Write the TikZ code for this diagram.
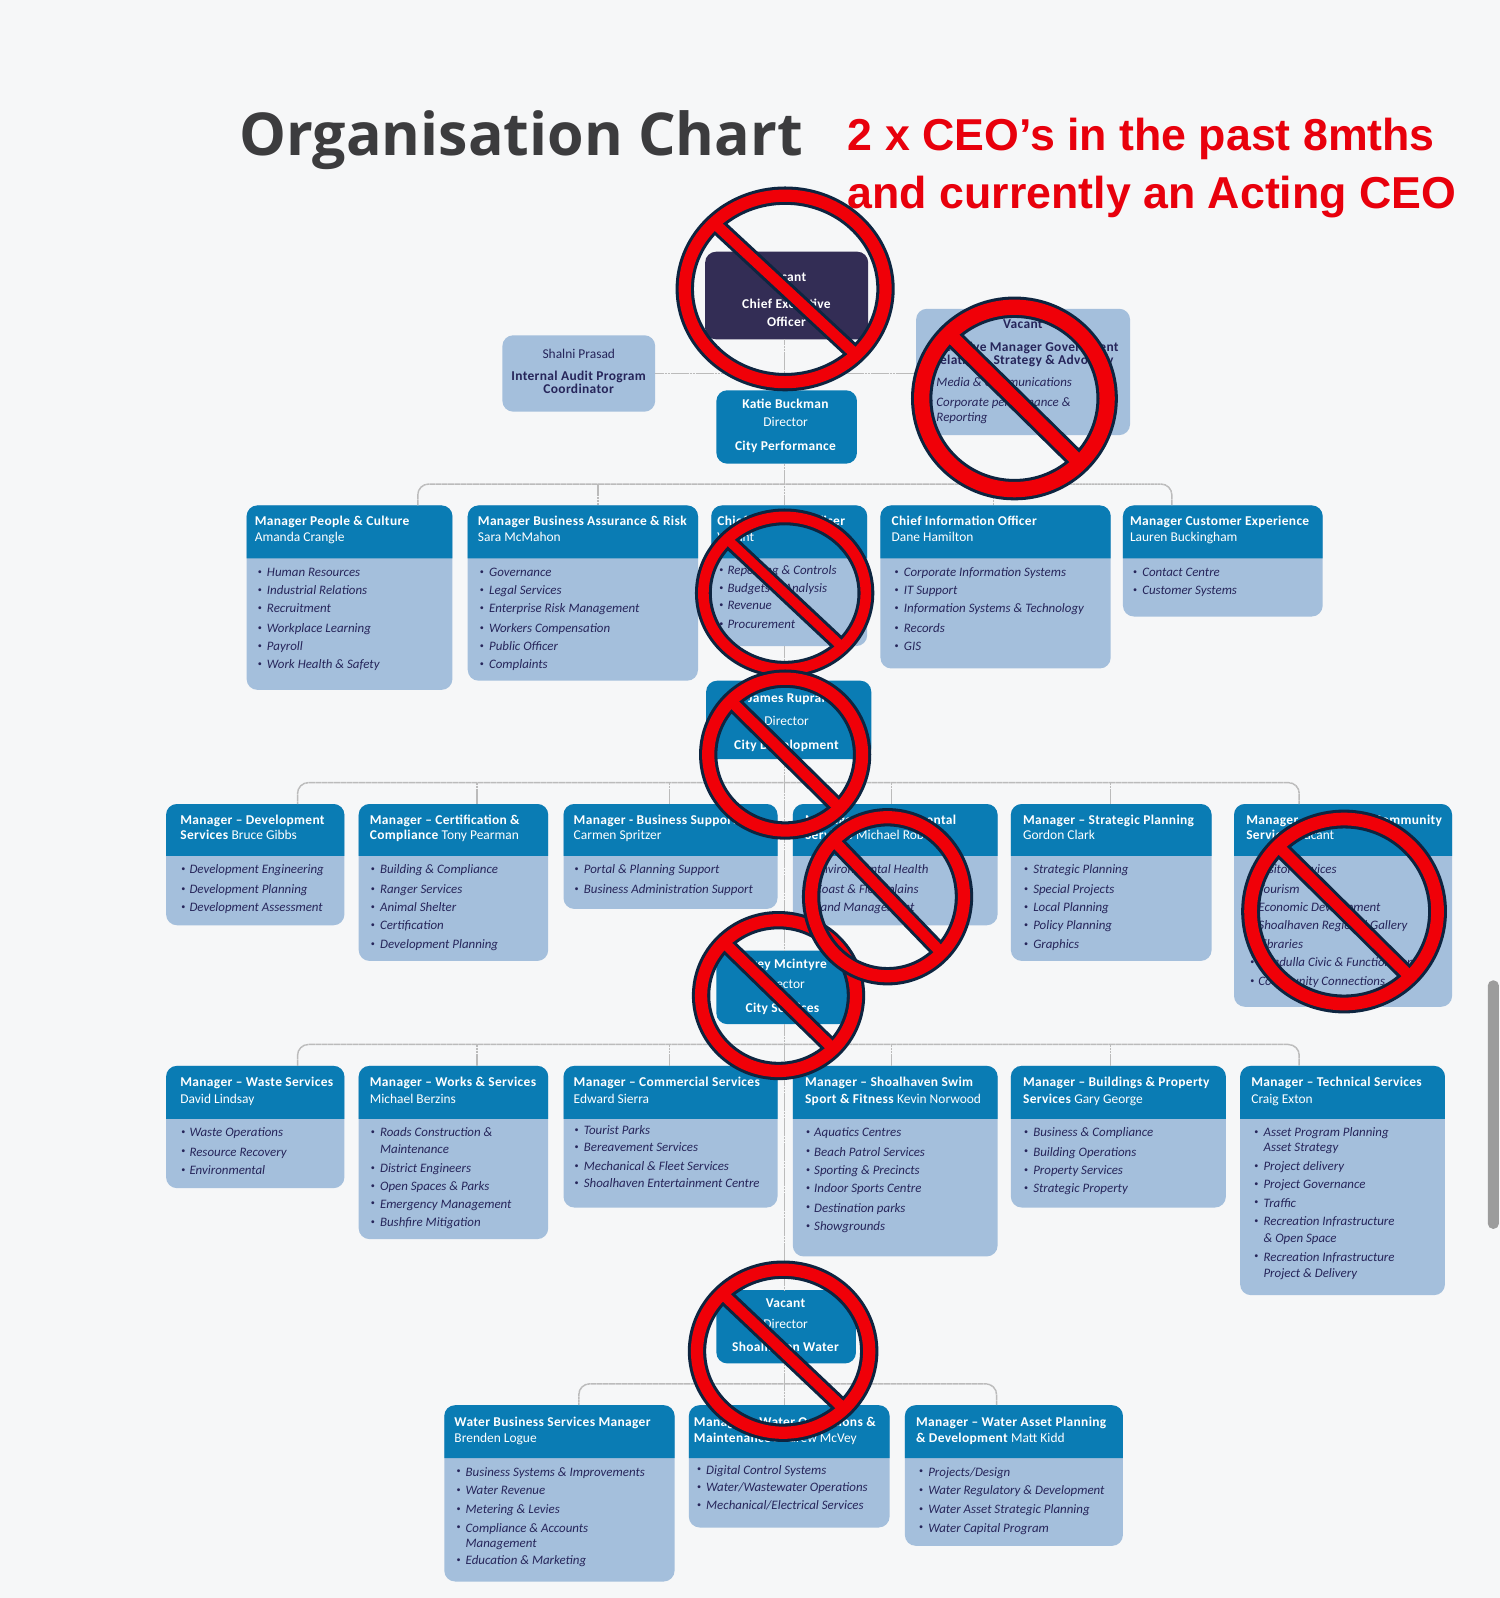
\documentclass[tikz,border=0pt]{standalone}
\usepackage{fontspec}
\setmainfont{Carlito}[BoldFeatures={LetterSpace=2.5}]
\newfontfamily\titlefont{Open Sans}
\newfontfamily\redfont{Liberation Sans}
\usetikzlibrary{calc}
\definecolor{bgc}{HTML}{F6F7F8}
\definecolor{headc}{HTML}{0A7CB4}
\definecolor{bodyc}{HTML}{A4BFDC}
\definecolor{ceoc}{HTML}{332D55}
\definecolor{inkc}{HTML}{26255A}
\definecolor{connc}{HTML}{BBBBBB}
\definecolor{ringc}{HTML}{F00008}
\definecolor{ringd}{HTML}{0D2540}
\definecolor{titlec}{HTML}{3C3C3E}
\definecolor{redt}{HTML}{E8000C}
\definecolor{barc}{HTML}{9C9C9C}
\newcounter{txtn}
\newcommand\mytx[4][]{\stepcounter{txtn}\node[txtbase,#1,name=t\arabic{txtn}] at ({#2},{#3+4.5}) {#4};}
\newcommand\hd[3]{\mytx[headtxt]{#1}{#2}{#3}}
\newcommand\bx[3]{\mytx[bodytxt]{#1}{#2}{#3}}
\newcommand\bl[4]{\mytx[bullettxt]{#1}{#3-2.1}{•}\mytx[bodytxt]{#2}{#3}{#4}}
\newcommand\cw[3]{\mytx[dirtxt]{#1}{#2}{#3}}
\newcommand\ci[3]{\mytx[dirink]{#1}{#2}{#3}}
% name, x1, y1, x2, y-head-bottom, y2
\newcommand\mycard[6]{%
 \pgfmathsetmacro\cardw{#4-#2}\pgfmathsetmacro\cardh{#6-#3}%
 \node[bodybox,anchor=north west,minimum width=\cardw*0.75pt,minimum height=\cardh*0.75pt] (#1) at (#2,#3) {};
 \fill[headc] (#2,#5) {[rounded corners=8pt] -- (#2,#3) -- (#4,#3)} -- (#4,#5) -- cycle;
}
\newcommand\mybox[7]{%
 \pgfmathsetmacro\cardw{#4-#2}\pgfmathsetmacro\cardh{#5-#3}%
 \node[#6,anchor=north west,minimum width=\cardw*0.75pt,minimum height=\cardh*0.75pt] (#1) at (#2,#3) {#7};
}
% cx, cy, rx, ry (outer size, outline included), red thickness
\newcommand\nosign[5]{%
 \pgfmathsetmacro\orx{#3-3}\pgfmathsetmacro\ory{#4-3}%
 \pgfmathsetmacro\tk{#5}\pgfmathsetmacro\irx{\orx-\tk}\pgfmathsetmacro\iry{\ory-\tk}%
 \pgfmathsetmacro\lnn{veclen(#3,#4)}%
 \pgfmathsetmacro\ax{0.707*(\orx-\tk/2)}\pgfmathsetmacro\ay{0.707*(\ory-\tk/2)}%
 \pgfmathsetmacro\px{-#4/\lnn*0.44*\tk}\pgfmathsetmacro\py{#3/\lnn*0.44*\tk}%
 \def\ringp{(#1,#2) ellipse [x radius=\orx, y radius=\ory] (#1,#2) ellipse [x radius=\irx, y radius=\iry]}%
 \def\slashp{({#1-\ax+\px},{#2-\ay+\py}) -- ({#1-\ax-\px},{#2-\ay-\py}) -- ({#1+\ax-\px},{#2+\ay-\py}) -- ({#1+\ax+\px},{#2+\ay+\py}) -- cycle}%
 \draw[ringd,line width=6*0.75pt,line join=round] \ringp;
 \draw[ringd,line width=6*0.75pt] \slashp;
 \fill[ringc,even odd rule] \ringp;
 \fill[ringc] \slashp;
}
\tikzset{
 x=0.75pt,y=-0.75pt,
 txtbase/.style={inner sep=0pt,outer sep=0pt},
 headtxt/.style={anchor=base west,text=white,font=\fontsize{9.9pt}{11pt}\selectfont},
 bodytxt/.style={anchor=base west,text=inkc,font=\fontsize{9.5pt}{11pt}\selectfont\itshape},
 bullettxt/.style={anchor=base west,text=inkc,font=\fontsize{6pt}{7pt}\selectfont},
 dirtxt/.style={anchor=base,text=white,font=\fontsize{9.9pt}{11pt}\selectfont},
 dirink/.style={anchor=base,text=inkc,font=\fontsize{9.9pt}{11pt}\selectfont},
 bodybox/.style={fill=bodyc,rounded corners=8pt,inner sep=0pt,outer sep=0pt},
 dirbox/.style={fill=headc,rounded corners=8pt,inner sep=0pt,outer sep=0pt},
 ceobox/.style={fill=ceoc,rounded corners=8pt,inner sep=0pt,outer sep=0pt},
 conn/.style={connc,line width=1.1pt,dash pattern=on 2pt off 0.3pt},
}
\begin{document}
\begin{tikzpicture}
\useasboundingbox (0,0) rectangle (1472,1568.2);
\fill[bgc] (0,0) rectangle (1472,1568.2);
\fill[barc,rounded corners=4pt] (1460,962) rectangle (1471,1206);

\node[txtbase,anchor=base west,text=titlec,font=\titlefont\bfseries\fontsize{43.5pt}{46pt}\selectfont] (title) at (235,153) {Organisation Chart};
\node[txtbase,anchor=base west,text=redt,font=\redfont\bfseries\fontsize{32.9pt}{35pt}\selectfont] (red1) at (832,148) {2 x CEO’s in the past 8mths};
\node[txtbase,anchor=base west,text=redt,font=\redfont\bfseries\fontsize{32.9pt}{35pt}\selectfont] (red2) at (832,205) {and currently an Acting CEO};

% directors and top boxes
\mybox{ceo}{692}{247}{852}{333}{ceobox}{}
\cw{772}{272}{\textbf{Vacant}}
\cw{772}{298}{\textbf{Chief Executive}}
\cw{772}{316}{\textbf{Officer}}

\mybox{shalni}{493}{329}{643}{404}{bodybox}{}
\ci{568}{347}{Shalni Prasad}
\ci{568}{369}{\textbf{Internal Audit Program}}
\ci{568}{382}{\textbf{Coordinator}}

\mybox{execv}{899}{303}{1109}{427}{bodybox}{}
\ci{1004}{318}{\textbf{Vacant}}
\ci{1006}{340}{\textbf{Executive Manager Government}}
\ci{1004}{353}{\textbf{Relations, Strategy \& Advocacy}}
\bl{912}{919}{375}{Media \& Communications}
\bl{912}{919}{394}{Corporate performance \&}
\bx{919}{409}{Reporting}

\mybox{katie}{703}{383}{841}{455}{dirbox}{}
\cw{771}{396}{\textbf{Katie Buckman}}
\cw{771}{414}{Director}
\cw{771}{438}{\textbf{City Performance}}

\mybox{james}{693}{668}{855}{745}{dirbox}{}
\cw{772}{685}{\textbf{James Ruprai}}
\cw{772}{707}{Director}
\cw{772}{731}{\textbf{City Development}}

\mybox{carey}{703}{933}{833}{1005}{dirbox}{}
\cw{768}{946}{\textbf{Carey Mcintyre}}
\cw{768}{966}{Director}
\cw{768}{989}{\textbf{City Services}}

\mybox{water}{703}{1266}{840}{1338}{dirbox}{}
\cw{771}{1279}{\textbf{Vacant}}
\cw{771}{1299}{Director}
\cw{771}{1322}{\textbf{Shoalhaven Water}}

% row 1
\mycard{c1}{242}{496}{444}{548}{677}
\hd{250}{511}{\textbf{Manager People \& Culture}}
\hd{250}{527}{Amanda Crangle}
\bl{253}{262}{561}{Human Resources}
\bl{253}{262}{579}{Industrial Relations}
\bl{253}{262}{597}{Recruitment}
\bl{253}{262}{616}{Workplace Learning}
\bl{253}{262}{634}{Payroll}
\bl{253}{262}{652}{Work Health \& Safety}

\mycard{c2}{459}{496}{685}{548}{668}
\hd{469}{511}{\textbf{Manager Business Assurance \& Risk}}
\hd{469}{527}{Sara McMahon}
\bl{471}{480}{561}{Governance}
\bl{471}{480}{579}{Legal Services}
\bl{471}{480}{597}{Enterprise Risk Management}
\bl{471}{480}{616}{Workers Compensation}
\bl{471}{480}{634}{Public Officer}
\bl{471}{480}{652}{Complaints}

\mycard{c3}{698}{496}{851}{548}{634}
\hd{704}{511}{\textbf{Chief Financial Officer}}
\hd{704}{527}{Vacant}
\bl{706}{714}{559}{Reporting \& Controls}
\bl{706}{714}{577}{Budgets \& Analysis}
\bl{706}{714}{594}{Revenue}
\bl{706}{714}{612}{Procurement}

\mycard{c4}{864}{496}{1090}{548}{656}
\hd{875}{511}{\textbf{Chief Information Officer}}
\hd{875}{527}{Dane Hamilton}
\bl{878}{887}{561}{Corporate Information Systems}
\bl{878}{887}{579}{IT Support}
\bl{878}{887}{597}{Information Systems \& Technology}
\bl{878}{887}{616}{Records}
\bl{878}{887}{634}{GIS}

\mycard{c5}{1102}{496}{1298}{548}{605}
\hd{1109}{511}{\textbf{Manager Customer Experience}}
\hd{1109}{527}{Lauren Buckingham}
\bl{1112}{1121}{561}{Contact Centre}
\bl{1112}{1121}{579}{Customer Systems}

% row 2
\mycard{d1}{163}{789}{338}{840}{908}
\hd{177}{805}{\textbf{Manager – Development}}
\hd{177}{819}{\textbf{Services} Bruce Gibbs}
\bl{178}{186}{853}{Development Engineering}
\bl{178}{186}{872}{Development Planning}
\bl{178}{186}{890}{Development Assessment}

\mycard{d2}{352}{789}{538}{840}{943}
\hd{363}{805}{\textbf{Manager – Certification \&}}
\hd{363}{819}{\textbf{Compliance} Tony Pearman}
\bl{364}{373}{853}{Building \& Compliance}
\bl{364}{373}{872}{Ranger Services}
\bl{364}{373}{890}{Animal Shelter}
\bl{364}{373}{908}{Certification}
\bl{364}{373}{926}{Development Planning}

\mycard{d3}{553}{789}{763}{840}{892}
\hd{563}{805}{\textbf{Manager - Business Support}}
\hd{563}{819}{Carmen Spritzer}
\bl{564}{573}{853}{Portal \& Planning Support}
\bl{564}{573}{872}{Business Administration Support}

\mycard{d4}{778}{789}{979}{840}{908}
\hd{790}{805}{\textbf{Manager – Environmental}}
\hd{790}{819}{\textbf{Services} Michael Roberts}
\bl{792}{800}{853}{Environmental Health}
\bl{792}{800}{872}{Coast \& Floodplains}
\bl{792}{800}{890}{Land Management}

\mycard{d5}{992}{789}{1189}{840}{943}
\hd{1004}{805}{\textbf{Manager – Strategic Planning}}
\hd{1004}{819}{Gordon Clark}
\bl{1005}{1014}{853}{Strategic Planning}
\bl{1005}{1014}{872}{Special Projects}
\bl{1005}{1014}{890}{Local Planning}
\bl{1005}{1014}{908}{Policy Planning}
\bl{1005}{1014}{926}{Graphics}

\mycard{d6}{1211}{789}{1425}{840}{988}
\hd{1223}{805}{\textbf{Manager – Tourism \& Community}}
\hd{1223}{819}{\textbf{Services} Vacant}
\bl{1227}{1235}{853}{Visitor Services}
\bl{1227}{1235}{872}{Tourism}
\bl{1227}{1235}{890}{Economic Development}
\bl{1227}{1235}{908}{Shoalhaven Regional Gallery}
\bl{1227}{1235}{926}{Libraries}
\bl{1227}{1235}{944}{Ulladulla Civic \& Function Centre}
\bl{1227}{1235}{963}{Community Connections}

% row 3
\mycard{e1}{163}{1046}{338}{1098}{1166}
\hd{177}{1062}{\textbf{Manager – Waste Services}}
\hd{177}{1078}{David Lindsay}
\bl{178}{186}{1111}{Waste Operations}
\bl{178}{186}{1130}{Resource Recovery}
\bl{178}{186}{1148}{Environmental}

\mycard{e2}{352}{1046}{538}{1098}{1216}
\hd{363}{1062}{\textbf{Manager – Works \& Services}}
\hd{363}{1078}{Michael Berzins}
\bl{364}{373}{1111}{Roads Construction \&}
\bx{373}{1127}{Maintenance}
\bl{364}{373}{1146}{District Engineers}
\bl{364}{373}{1164}{Open Spaces \& Parks}
\bl{364}{373}{1181}{Emergency Management}
\bl{364}{373}{1199}{Bushfire Mitigation}

\mycard{e3}{553}{1046}{763}{1098}{1185}
\hd{563}{1062}{\textbf{Manager – Commercial Services}}
\hd{563}{1078}{Edward Sierra}
\bl{564}{573}{1109}{Tourist Parks}
\bl{564}{573}{1126}{Bereavement Services}
\bl{564}{573}{1144}{Mechanical \& Fleet Services}
\bl{564}{573}{1161}{Shoalhaven Entertainment Centre}

\mycard{e4}{778}{1046}{979}{1098}{1233}
\hd{790}{1062}{\textbf{Manager – Shoalhaven Swim}}
\hd{790}{1078}{\textbf{Sport \& Fitness} Kevin Norwood}
\bl{791}{799}{1111}{Aquatics Centres}
\bl{791}{799}{1130}{Beach Patrol Services}
\bl{791}{799}{1148}{Sporting \& Precincts}
\bl{791}{799}{1166}{Indoor Sports Centre}
\bl{791}{799}{1185}{Destination parks}
\bl{791}{799}{1203}{Showgrounds}

\mycard{e5}{992}{1046}{1203}{1098}{1185}
\hd{1004}{1062}{\textbf{Manager – Buildings \& Property}}
\hd{1004}{1078}{\textbf{Services} Gary George}
\bl{1005}{1014}{1111}{Business \& Compliance}
\bl{1005}{1014}{1130}{Building Operations}
\bl{1005}{1014}{1148}{Property Services}
\bl{1005}{1014}{1166}{Strategic Property}

\mycard{e6}{1217}{1046}{1418}{1098}{1271}
\hd{1228}{1062}{\textbf{Manager – Technical Services}}
\hd{1228}{1078}{Craig Exton}
\bl{1231}{1240}{1111}{Asset Program Planning}
\bx{1240}{1126}{Asset Strategy}
\bl{1231}{1240}{1144}{Project delivery}
\bl{1231}{1240}{1162}{Project Governance}
\bl{1231}{1240}{1180}{Traffic}
\bl{1231}{1240}{1198}{Recreation Infrastructure}
\bx{1240}{1215}{\& Open Space}
\bl{1231}{1240}{1233}{Recreation Infrastructure}
\bx{1240}{1249}{Project \& Delivery}

% row 4
\mycard{f1}{436}{1379}{662}{1431}{1552}
\hd{446}{1395}{\textbf{Water Business Services Manager}}
\hd{446}{1411}{Brenden Logue}
\bl{448}{457}{1444}{Business Systems \& Improvements}
\bl{448}{457}{1462}{Water Revenue}
\bl{448}{457}{1481}{Metering \& Levies}
\bl{448}{457}{1499}{Compliance \& Accounts}
\bx{457}{1514}{Management}
\bl{448}{457}{1531}{Education \& Marketing}

\mycard{f2}{676}{1379}{873}{1431}{1499}
\hd{681}{1395}{\textbf{Manager – Water Operations \&}}
\hd{681}{1411}{\textbf{Maintenance} Andrew McVey}
\bl{684}{693}{1442}{Digital Control Systems}
\bl{684}{693}{1459}{Water/Wastewater Operations}
\bl{684}{693}{1477}{Mechanical/Electrical Services}

\mycard{f3}{888}{1379}{1102}{1431}{1517}
\hd{899}{1395}{\textbf{Manager – Water Asset Planning}}
\hd{899}{1411}{\textbf{\& Development} Matt Kidd}
\bl{902}{911}{1444}{Projects/Design}
\bl{902}{911}{1462}{Water Regulatory \& Development}
\bl{902}{911}{1481}{Water Asset Strategic Planning}
\bl{902}{911}{1499}{Water Capital Program}

% connectors
\coordinate (tr) at (770,0);
\draw[conn] (ceo.south -| tr) -- (katie.north -| tr);
\draw[conn] (katie.south -| tr) -- (c3.north -| tr);
\draw[conn] (c3.south -| tr) -- (james.north -| tr);
\draw[conn] (james.south -| tr) -- (carey.north -| tr);
\draw[conn] (carey.south -| tr) -- (water.north -| tr);
\draw[conn] (water.south -| tr) -- (f2.north -| tr);
\draw[conn] (shalni.east) -- (shalni.east -| execv.west);

\draw[conn,rounded corners=8pt] (410,475 |- c1.north) -- (410,475) -- (1150,475) -- (1150,475 |- c5.north);
\draw[conn] (587,475) -- (587,475 |- c2.north);
\draw[conn] (975,475) -- (975,475 |- c4.north);

\draw[conn,rounded corners=8pt] (292,768 |- d1.north) -- (292,768) -- (1275,768) -- (1275,768 |- d6.north);
\draw[conn] (468,768) -- (468,768 |- d2.north);
\draw[conn] (657,768) -- (657,768 |- d3.north);
\draw[conn] (875,768) -- (875,768 |- d4.north);
\draw[conn] (1090,768) -- (1090,768 |- d5.north);

\draw[conn,rounded corners=8pt] (292,1025 |- e1.north) -- (292,1025) -- (1275,1025) -- (1275,1025 |- e6.north);
\draw[conn] (468,1025) -- (468,1025 |- e2.north);
\draw[conn] (657,1025) -- (657,1025 |- e3.north);
\draw[conn] (875,1025) -- (875,1025 |- e4.north);
\draw[conn] (1090,1025) -- (1090,1025 |- e5.north);

\draw[conn,rounded corners=8pt] (568,1358 |- f1.north) -- (568,1358) -- (978,1358) -- (978,1358 |- f3.north);

% prohibition signs
\nosign{770.5}{283.5}{107.5}{100.5}{12}
\nosign{995.5}{391}{101.5}{100}{15}
\nosign{770}{582}{88}{83}{10.5}
\nosign{770.5}{740.5}{84.5}{83.5}{12}
\nosign{764}{977}{85}{83}{12}
\nosign{871}{880}{84}{87}{12}
\nosign{1319}{894.5}{101}{100}{12.5}
\nosign{768.5}{1326}{93.5}{89}{12}
\end{tikzpicture}
\end{document}
